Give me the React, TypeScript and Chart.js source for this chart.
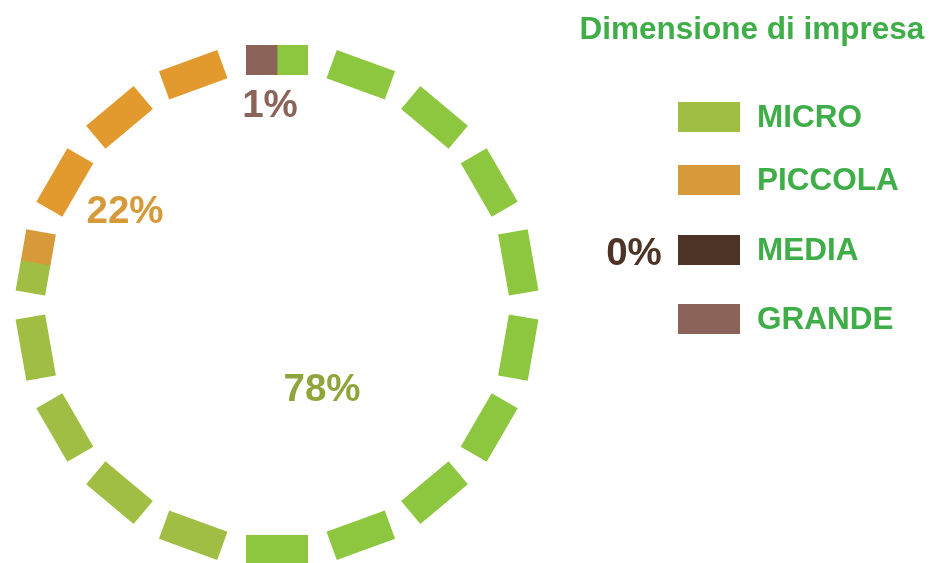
import React, { useEffect, useRef } from "react";
import { Chart, registerables, ArcElement, DoughnutController } from "chart.js";

Chart.register(...registerables);

// ---------- data ----------
const CATEGORIES = ["MICRO", "PICCOLA", "MEDIA", "GRANDE"];
const VALUES = [78, 22, 0, 1];
const LEGEND_TITLE = "Dimensione di impresa";

// ---------- styles ----------
const SWATCH_COLORS = ["#a0be43", "#d69a3b", "#4e3426", "#8b6358"];
const RING_VIVID = ["#8dc63f", "#e2992d", "#4e3426", "#8b6358"];
const LABEL_COLORS = ["#8ea53c", "#d69a3b", "#4e3426", "#8b6358"];
const TEXT_GREEN = "#3fae49";
const FONT = '"Liberation Sans", Arial, Helvetica, sans-serif';

// ---------- layout ----------
const W = 933;
const H = 620;
const DASHES = 18;
const DASH_LEN = 62;
const DASH_THICK = 30;
const MUTED_FROM = 190; // degrees clockwise from top where the ring uses the muted tone
const MUTED_TO = 290;
const LEGEND_ROW_TOP = [102, 165, 235, 304];
const LEGEND_BOX_X = 678;
const LEGEND_TEXT_X = 757;
// value label anchors relative to the ring centre (text baseline, centred)
const RING_LABEL_OFFSET: (number[] | null)[] = [[45, 96], [-152, -82], null, [-7, -188]];

const TAU = Math.PI * 2;

// Arc element drawn as a ring of rectangular dashes; each half-dash takes the
// colour of the arc (slice) that contains its centre angle.
class DashedArc extends (ArcElement as any) {
  draw(ctx: CanvasRenderingContext2D) {
    const { x, y, startAngle, endAngle, outerRadius } = (this as any).getProps([
      "x",
      "y",
      "startAngle",
      "endAngle",
      "outerRadius",
    ]);
    if (!(endAngle - startAngle > 0)) return;
    const idx = (this as any).$context?.dataIndex ?? 0;
    const vivid = (this as any).options.backgroundColor || RING_VIVID[idx];
    const muted = SWATCH_COLORS[idx];
    const rOut = outerRadius - 2;
    const halfAng = Math.asin(DASH_LEN / 2 / rOut) / 2; // centre angle of a half-dash
    const inArc = (a: number) => {
      let t = a;
      while (t < startAngle) t += TAU;
      while (t >= startAngle + TAU) t -= TAU;
      return t < endAngle;
    };
    ctx.save();
    for (let k = 0; k < DASHES; k++) {
      const deg = (k * 360) / DASHES;
      const base = -Math.PI / 2 + (deg * Math.PI) / 180;
      const left = inArc(base - halfAng);
      const right = inArc(base + halfAng);
      if (!left && !right) continue;
      const isMuted = deg >= MUTED_FROM && deg < MUTED_TO;
      ctx.fillStyle = isMuted ? muted : vivid;
      ctx.save();
      ctx.translate(x, y);
      ctx.rotate((deg * Math.PI) / 180);
      if (left && right) ctx.fillRect(-DASH_LEN / 2, -rOut, DASH_LEN, DASH_THICK);
      else if (left) ctx.fillRect(-DASH_LEN / 2, -rOut, DASH_LEN / 2 + 0.4, DASH_THICK);
      else ctx.fillRect(-0.4, -rOut, DASH_LEN / 2 + 0.4, DASH_THICK);
      ctx.restore();
    }
    ctx.restore();
  }
}
(DashedArc as any).id = "dashedArc";

class DashedDoughnutController extends (DoughnutController as any) {}
(DashedDoughnutController as any).id = "dashedDoughnut";
(DashedDoughnutController as any).defaults = {
  ...(DoughnutController as any).defaults,
  dataElementType: "dashedArc",
};
(DashedDoughnutController as any).overrides = (DoughnutController as any).overrides;

Chart.register(DashedArc as any, DashedDoughnutController as any);

const overlayPlugin = {
  id: "overlay",
  afterDatasetsDraw(chart: any) {
    const ctx = chart.ctx as CanvasRenderingContext2D;
    const arc = chart.getDatasetMeta(0).data[0] as any;
    const cx = arc.x;
    const cy = arc.y;
    ctx.save();
    ctx.textBaseline = "alphabetic";

    // title
    ctx.font = `bold 31.5px ${FONT}`;
    ctx.fillStyle = TEXT_GREEN;
    ctx.textAlign = "left";
    ctx.fillText(LEGEND_TITLE, 579.5, 39);

    // legend
    CATEGORIES.forEach((name, i) => {
      const top = LEGEND_ROW_TOP[i];
      ctx.fillStyle = SWATCH_COLORS[i];
      ctx.fillRect(LEGEND_BOX_X, top, 62, 30);
      ctx.fillStyle = TEXT_GREEN;
      ctx.font = `bold 31.5px ${FONT}`;
      ctx.textAlign = "left";
      ctx.fillText(name, LEGEND_TEXT_X, top + 25);
    });

    // value labels
    ctx.font = `bold 38.5px ${FONT}`;
    ctx.textAlign = "center";
    VALUES.forEach((v, i) => {
      ctx.fillStyle = LABEL_COLORS[i];
      const off = RING_LABEL_OFFSET[i];
      if (off) {
        ctx.fillText(`${v}%`, cx + off[0], cy + off[1]);
      } else {
        ctx.fillText(`${v}%`, 634, LEGEND_ROW_TOP[i] + 30);
      }
    });
    ctx.restore();
  },
};

export default function App() {
  const ref = useRef<HTMLCanvasElement | null>(null);

  useEffect(() => {
    if (!ref.current) return;
    const chart = new Chart(ref.current, {
      type: "dashedDoughnut",
      data: {
        labels: CATEGORIES,
        datasets: [
          {
            data: VALUES,
            backgroundColor: RING_VIVID,
            borderWidth: 0,
          },
        ],
      },
      options: {
        responsive: false,
        animation: false,
        devicePixelRatio: 1,
        events: [],
        cutout: "86%",
        rotation: 0,
        layout: { padding: { left: 15, top: 43, right: W - 539, bottom: H - 567 } },
        plugins: {
          legend: { display: false },
          tooltip: { enabled: false },
          title: { display: false },
        },
      },
      plugins: [overlayPlugin],
    } as any);
    return () => chart.destroy();
  }, []);

  return (
    <div style={{ position: "fixed", left: 0, top: 0, width: W, height: 563, overflow: "hidden", background: "#fff" }}>
      <canvas ref={ref} width={W} height={H} style={{ position: "absolute", left: 0, top: 0, width: W, height: H }} />
    </div>
  );
}
